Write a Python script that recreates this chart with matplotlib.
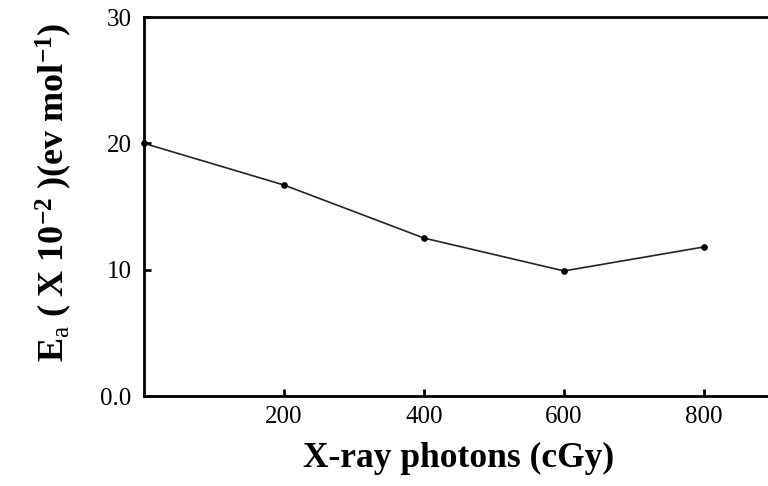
import matplotlib
matplotlib.use("Agg")
import matplotlib.pyplot as plt

plt.rcParams['font.family'] = 'Liberation Serif'
plt.rcParams['mathtext.fontset'] = 'custom'
plt.rcParams['mathtext.rm'] = 'Liberation Serif'
plt.rcParams['mathtext.bf'] = 'Liberation Serif:bold'
plt.rcParams['mathtext.it'] = 'Liberation Serif:italic'

# data
dose = [0, 200, 400, 600, 800]
energy = [20.0, 16.7, 12.5, 9.9, 11.8]
xtick_vals = [200, 400, 600, 800]
ytick_vals = [0, 10, 20, 30]
ytick_labels = ["0.0", "10", "20", "30"]

fig = plt.figure(figsize=(7.68, 4.86), dpi=100)
# axes runs past the right edge, like the cropped original
ax = fig.add_axes([144/768, 90/486, 700/768, 379/486])

ax.plot(dose, energy, color="#222222", linewidth=1.2, marker="o", markersize=3.8,
        markerfacecolor="black", markeredgecolor="black", clip_on=False)

ax.set_xlim(0, 1000)
ax.set_ylim(0, 30)
ax.set_xticks(xtick_vals)
ax.set_yticks(ytick_vals)
ax.set_yticklabels(ytick_labels)
ax.tick_params(direction="in", length=5, width=2, labelsize=18)
ax.tick_params(axis="x", pad=7)
ax.tick_params(axis="y", pad=9)
for s in ax.spines.values():
    s.set_linewidth(2)

ax.set_xlabel("X-ray photons (cGy)", fontsize=25.5, fontweight="bold")
ax.xaxis.set_label_coords(0.449, -0.122)
ax.set_ylabel(r"$\mathbf{E}_{\mathrm{a}}\mathbf{\ (\ X\ 10^{-2}\ )(ev\ mol^{-1})}$",
              fontsize=26)
ax.yaxis.set_label_coords(-0.1, 0.538)

fig.savefig("out.png", dpi=100)
